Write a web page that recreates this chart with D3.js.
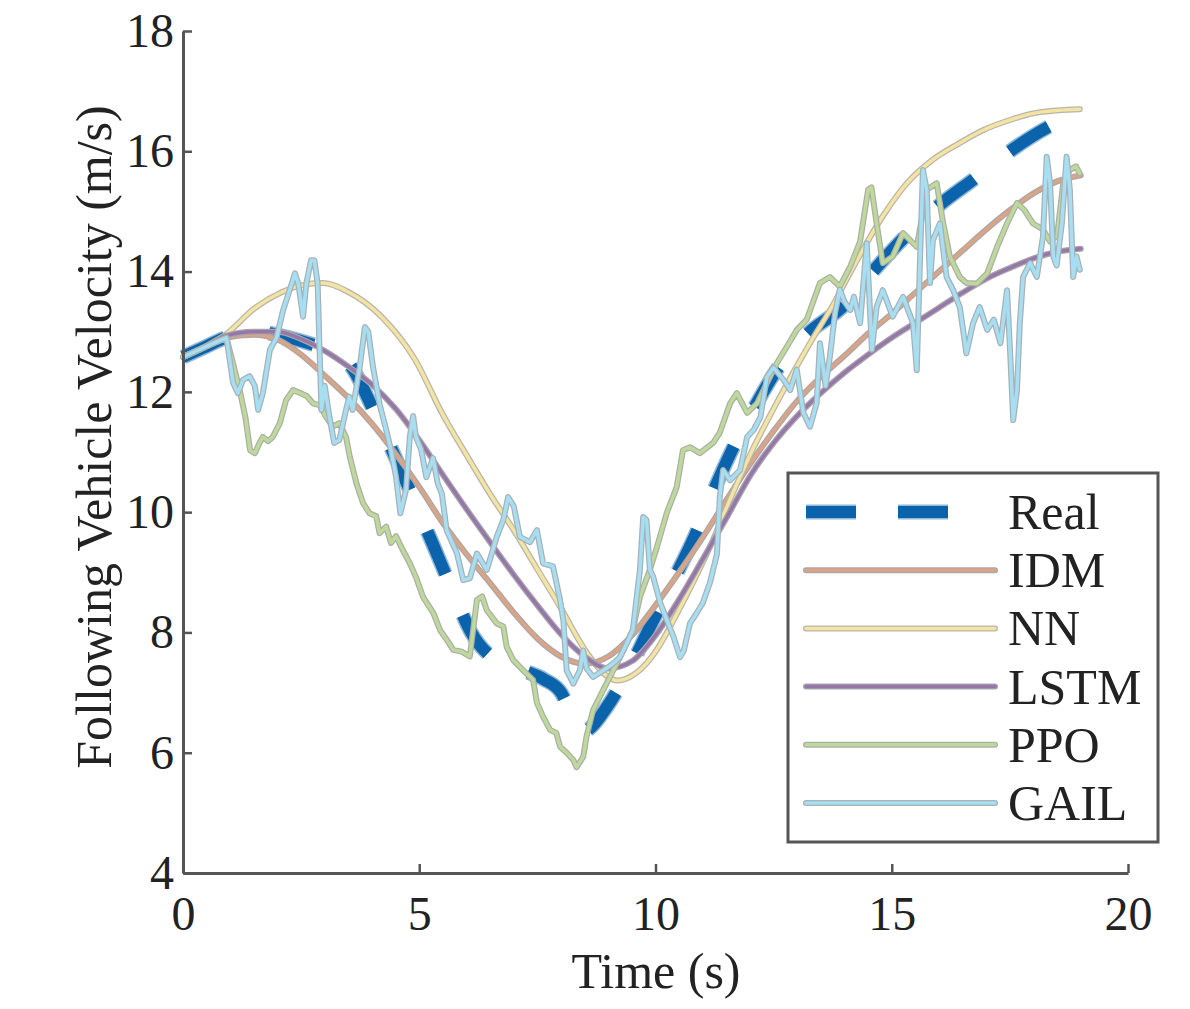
<!DOCTYPE html>
<html>
<head>
<meta charset="utf-8">
<script src="https://cdn.jsdelivr.net/npm/d3@7"></script>
<style>
  html, body { margin: 0; padding: 0; background: #fff; }
  svg { display: block; }
</style>
</head>
<body>
<svg id="chart" width="1190" height="1009"></svg>
<script>
// ---------------- DATA ----------------
const xTicks = [0, 5, 10, 15, 20];
const yTicks = [4, 6, 8, 10, 12, 14, 16, 18];
const seriesNames = ["Real", "IDM", "NN", "LSTM", "PPO", "GAIL"];

const realT = [0,0.45,0.9,1.5,2.25,2.9,3.3,3.62,4.0,4.5,5.27,5.7,6.1,6.6,7.2,7.64,8.0,8.25,8.45,8.6,8.97,9.45,9.92,10.4,10.83,11.2,11.6,12.1,12.57,13.2,13.98,14.6,15.28,16.0,16.76,17.5,18.35,19.0];
const realV = [12.58,12.74,12.9,13.0,12.9,12.75,12.65,12.35,11.75,10.9,9.5,8.7,8.0,7.55,7.37,7.22,7.0,6.6,6.35,6.4,6.76,7.4,8.15,8.9,9.6,10.3,11.0,11.75,12.37,12.95,13.43,14.0,14.58,15.1,15.55,16.0,16.42,16.65];

const idmT = [0,0.45,0.9,1.5,2.0,2.5,3.0,3.5,4.0,4.5,5.0,5.5,6.0,6.5,7.0,7.5,8.0,8.5,9.0,9.5,10.0,10.5,11.0,11.5,12.0,12.5,13.0,13.5,14.0,14.5,15.0,15.5,16.0,16.5,17.0,17.5,18.0,18.5,19.0];
const idmV = [12.58,12.74,12.9,12.95,12.87,12.62,12.27,11.9,11.47,10.97,10.42,9.82,9.3,8.82,8.33,7.9,7.6,7.48,7.6,7.95,8.45,9.0,9.58,10.2,10.8,11.35,11.85,12.25,12.6,12.97,13.3,13.65,14.0,14.35,14.7,15.02,15.3,15.5,15.6];

const nnT = [0,0.45,0.9,1.5,2.1,2.5,2.96,3.5,4.2,4.9,5.5,6.0,6.5,7.0,7.5,8.0,8.5,8.9,9.2,9.6,10.0,10.5,11.15,11.6,12.06,12.5,12.9,13.3,13.76,14.12,14.81,15.3,15.87,16.4,16.93,17.5,17.99,18.5,18.98];
const nnV = [12.58,12.74,12.95,13.38,13.66,13.77,13.81,13.66,13.25,12.55,11.62,10.95,10.3,9.7,9.05,8.4,7.72,7.32,7.2,7.33,7.68,8.38,9.42,10.25,11.05,11.72,12.3,12.85,13.45,13.98,14.92,15.45,15.86,16.12,16.35,16.52,16.63,16.68,16.7];

const lstmT = [0,0.45,0.9,1.5,2.0,2.5,3.0,3.5,4.0,4.5,5.0,5.5,6.0,6.5,7.0,7.5,8.0,8.5,9.0,9.5,10.0,10.5,11.0,11.5,12.0,12.5,13.0,13.5,14.0,14.5,15.0,15.5,16.0,16.5,17.0,17.5,18.0,18.5,19.0];
const lstmV = [12.58,12.74,12.93,13.0,13.0,12.88,12.68,12.42,12.12,11.72,11.2,10.62,10.05,9.5,8.96,8.45,7.97,7.6,7.4,7.52,7.95,8.55,9.22,9.9,10.6,11.15,11.6,11.98,12.32,12.62,12.9,13.15,13.4,13.65,13.88,14.06,14.22,14.33,14.38];

const ppoT = [0,0.45,0.92,1.05,1.2,1.32,1.42,1.52,1.62,1.69,1.8,1.9,2.05,2.18,2.33,2.48,2.62,2.75,2.89,3.03,3.17,3.31,3.45,3.53,3.67,3.81,3.95,4.09,4.16,4.3,4.4,4.51,4.65,4.8,4.93,5.08,5.16,5.3,5.44,5.58,5.72,5.9,6.07,6.14,6.22,6.33,6.43,6.64,6.78,6.85,6.99,7.2,7.41,7.49,7.62,7.77,7.9,7.98,8.12,8.26,8.33,8.47,8.54,8.68,8.97,9.25,9.52,9.67,9.88,10.03,10.24,10.45,10.58,10.73,10.94,11.22,11.36,11.58,11.72,11.94,12.15,12.36,12.57,12.78,12.99,13.2,13.48,13.69,13.9,14.12,14.33,14.5,14.57,14.68,14.81,15.02,15.24,15.53,15.74,15.95,16.09,16.23,16.44,16.58,16.8,17.02,17.23,17.44,17.65,17.8,17.99,18.2,18.35,18.5,18.63,18.77,18.9,18.98];
const ppoV = [12.58,12.74,12.9,12.5,12.03,11.58,11.03,10.98,11.15,11.25,11.18,11.25,11.48,11.86,12.03,11.98,11.93,11.81,11.78,11.58,11.42,11.48,11.25,10.92,10.48,10.15,9.98,9.93,9.65,9.76,9.49,9.6,9.37,9.15,8.92,8.59,8.49,8.32,8.04,7.88,7.71,7.68,7.6,8.04,8.54,8.6,8.37,8.15,8.1,7.76,7.54,7.37,7.21,6.83,6.6,6.38,6.33,6.1,6.0,5.88,5.76,5.93,6.27,6.71,7.16,7.59,8.04,8.59,9.04,9.42,9.99,10.42,11.03,11.08,10.98,11.15,11.32,11.81,11.98,11.65,11.81,12.15,12.48,12.75,13.03,13.2,13.81,13.91,13.75,14.08,14.5,15.36,15.4,14.8,14.14,14.25,14.64,14.41,15.36,15.47,14.8,14.25,13.91,13.81,13.8,13.97,14.41,14.8,15.14,15.03,14.8,14.7,14.5,14.6,15.47,15.69,15.75,15.63];

const gailT = [0,0.45,0.92,1.06,1.16,1.27,1.41,1.52,1.59,1.69,1.84,1.98,2.12,2.26,2.37,2.44,2.54,2.61,2.71,2.78,2.85,2.89,2.93,3.0,3.1,3.2,3.31,3.45,3.52,3.59,3.74,3.85,3.92,4.02,4.16,4.3,4.4,4.51,4.6,4.72,4.8,4.87,4.93,5.04,5.15,5.29,5.39,5.48,5.58,5.8,5.93,6.07,6.22,6.43,6.64,6.78,6.88,7.0,7.13,7.34,7.49,7.62,7.83,7.98,8.05,8.12,8.26,8.4,8.47,8.54,8.68,8.9,9.1,9.25,9.38,9.52,9.67,9.74,9.81,9.88,9.95,10.1,10.24,10.38,10.52,10.6,10.73,10.87,11.0,11.15,11.3,11.36,11.43,11.58,11.79,11.94,12.08,12.22,12.36,12.5,12.71,12.85,12.99,13.13,13.27,13.41,13.48,13.6,13.69,13.8,13.9,14.0,14.12,14.2,14.33,14.47,14.58,14.68,14.81,15.02,15.24,15.45,15.53,15.6,15.66,15.74,15.81,15.87,16.02,16.16,16.3,16.44,16.58,16.72,16.86,17.02,17.16,17.3,17.44,17.51,17.57,17.65,17.71,17.78,17.93,18.07,18.2,18.28,18.35,18.42,18.49,18.6,18.7,18.77,18.84,18.91,18.98];
const gailV = [12.58,12.74,12.9,12.15,11.98,12.2,12.26,12.1,11.7,11.98,12.7,12.9,13.36,13.7,13.97,13.8,13.25,13.8,14.19,14.19,13.8,12.7,11.7,12.1,11.58,11.15,11.2,11.7,11.92,11.7,12.41,13.08,13.0,12.42,11.8,11.37,11.04,10.58,9.98,10.37,11.25,11.6,11.25,11.04,10.58,10.9,10.48,10.3,9.7,9.31,8.87,8.9,9.31,9.04,9.59,9.87,10.25,10.1,9.59,9.5,9.7,9.15,9.1,8.54,8.2,7.37,7.15,7.37,7.7,7.4,7.26,7.37,7.48,7.59,7.8,8.04,9.04,9.92,9.87,9.04,8.93,8.49,8.21,7.93,7.59,7.7,8.15,8.32,8.49,8.82,9.3,10.25,10.7,10.53,10.7,11.25,11.37,11.58,12.25,12.4,12.2,12.03,12.37,11.65,11.42,11.81,12.81,12.1,12.58,13.31,13.7,13.5,13.36,13.58,13.14,14.47,12.7,13.41,13.69,13.25,13.58,13.14,12.36,14.25,15.69,15.36,13.81,14.52,14.8,13.91,13.69,13.41,12.64,13.14,13.41,13.03,13.2,12.81,13.69,12.58,11.53,12.03,13.14,13.91,14.14,13.91,14.58,15.91,15.47,14.25,14.1,14.8,15.91,15.36,13.91,14.25,14.03];

// ---------------- CHART ----------------
const svg = d3.select("#chart");
const FONT = "'Liberation Serif', 'Times New Roman', serif";
const x = d3.scaleLinear().domain([0, 20]).range([183, 1128]);
const y = d3.scaleLinear().domain([4, 18]).range([873, 31]);

const zip = (T, V) => T.map((t, i) => [t, V[i]]);
const smoothLine = d3.line().x(d => x(d[0])).y(d => y(d[1])).curve(d3.curveMonotoneX);
const rawLine = d3.line().x(d => x(d[0])).y(d => y(d[1]));

const styles = {
  Real: { color: "#0b63ab", halo: "#92b8d6", w: 12, hw: 15, dash: "46,45" },
  IDM:  { color: "#d9a487", halo: "#aba7a5", w: 3.5, hw: 6 },
  NN:   { color: "#f4e4a4", halo: "#b8b5aa", w: 3.5, hw: 6 },
  LSTM: { color: "#9577a8", halo: "#a9a5ad", w: 3.5, hw: 6 },
  PPO:  { color: "#bfd89c", halo: "#aab0a5", w: 3.5, hw: 6 },
  GAIL: { color: "#a8def1", halo: "#a6b2b7", w: 3.5, hw: 6 }
};

const data = [
  { name: "Real", pts: zip(realT, realV), gen: smoothLine },
  { name: "IDM",  pts: zip(idmT, idmV), gen: smoothLine },
  { name: "NN",   pts: zip(nnT, nnV), gen: smoothLine },
  { name: "LSTM", pts: zip(lstmT, lstmV), gen: smoothLine },
  { name: "PPO",  pts: zip(ppoT, ppoV), gen: rawLine },
  { name: "GAIL", pts: zip(gailT, gailV), gen: rawLine }
];

const plot = svg.append("g");
data.forEach(s => {
  const st = styles[s.name];
  const d = s.gen(s.pts);
  plot.append("path").attr("d", d).attr("fill", "none")
    .attr("stroke", st.halo).attr("stroke-width", st.hw)
    .attr("stroke-linejoin", "round")
    .attr("stroke-linecap", st.dash ? "butt" : "round")
    .attr("stroke-dasharray", st.dash || null);
  plot.append("path").attr("d", d).attr("fill", "none")
    .attr("stroke", st.color).attr("stroke-width", st.w)
    .attr("stroke-linejoin", "round")
    .attr("stroke-linecap", st.dash ? "butt" : "round")
    .attr("stroke-dasharray", st.dash || null);
});

// Axes
const axisColor = "#555";
const yAxis = svg.append("g").attr("transform", "translate(183,0)")
  .call(d3.axisLeft(y).tickValues(yTicks).tickSize(-9).tickSizeOuter(0).tickPadding(9).tickFormat(d3.format("d")));
const xAxis = svg.append("g").attr("transform", "translate(0,873)")
  .call(d3.axisBottom(x).tickValues(xTicks).tickSize(-9).tickSizeOuter(0).tickPadding(23).tickFormat(d3.format("d")));
[yAxis, xAxis].forEach(a => {
  a.select(".domain").attr("stroke", axisColor).attr("stroke-width", 3);
  a.selectAll(".tick line").attr("stroke", axisColor).attr("stroke-width", 2.5);
  a.selectAll(".tick text").attr("fill", "#222").style("font-family", FONT).style("font-size", "48px");
});

// Axis titles
svg.append("text").attr("x", 656).attr("y", 988).attr("text-anchor", "middle")
  .style("font-family", FONT).style("font-size", "50px").attr("fill", "#222")
  .text("Time (s)");
svg.append("text").attr("transform", "translate(111,437) rotate(-90)").attr("text-anchor", "middle")
  .style("font-family", FONT).style("font-size", "50px").attr("fill", "#222")
  .text("Following Vehicle Velocity (m/s)");

// Legend
const lg = svg.append("g");
lg.append("rect").attr("x", 788).attr("y", 473).attr("width", 370).attr("height", 369)
  .attr("fill", "#fff").attr("stroke", axisColor).attr("stroke-width", 3);
const rowY = d3.scalePoint().domain(seriesNames).range([512, 803]);
seriesNames.forEach(n => {
  const st = styles[n];
  const yy = rowY(n);
  const x2 = st.dash ? 950 : 995;
  [[st.halo, st.hw], [st.color, st.w]].forEach(([c, w]) => {
    lg.append("line").attr("x1", 806).attr("x2", x2).attr("y1", yy).attr("y2", yy)
      .attr("stroke", c).attr("stroke-width", w)
      .attr("stroke-linecap", st.dash ? "butt" : "round")
      .attr("stroke-dasharray", st.dash ? "50,42" : null);
  });
  lg.append("text").attr("x", 1008).attr("y", yy + 17)
    .style("font-family", FONT).style("font-size", "50px").attr("fill", "#222").text(n);
});
</script>
</body>
</html>
